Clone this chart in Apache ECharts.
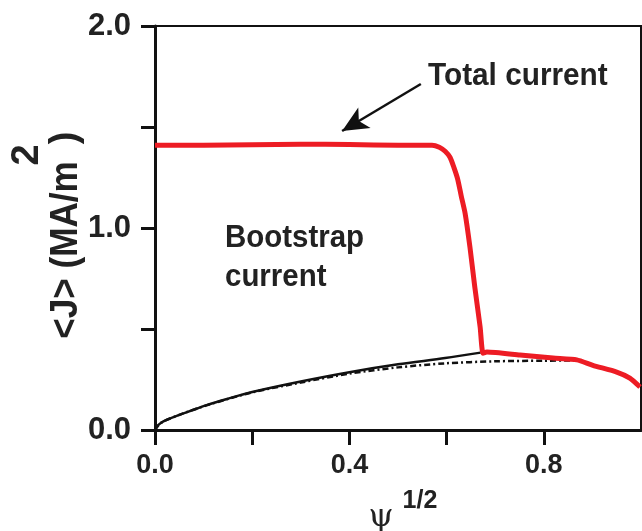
<!DOCTYPE html>
<html>
<head>
<meta charset="utf-8">
<script src="https://cdn.jsdelivr.net/npm/echarts@6/dist/echarts.min.js"></script>
<style>
  html, body { margin: 0; padding: 0; background: #fff; }
  #chart { width: 642px; height: 531px; }
</style>
</head>
<body>
<div id="chart"></div>
<script>
// Current density profiles vs. normalized radius (sqrt of poloidal flux)
const totalX = [0, 0.1, 0.2, 0.3, 0.4, 0.5, 0.57, 0.585, 0.597, 0.607, 0.615, 0.623, 0.63, 0.638, 0.648, 0.658, 0.669, 0.675, 0.683, 0.751, 0.819, 0.868, 0.901, 0.95, 0.977, 0.998];
const totalY = [1.41, 1.41, 1.412, 1.415, 1.413, 1.41, 1.41, 1.40, 1.38, 1.35, 1.30, 1.24, 1.16, 1.074, 0.906, 0.708, 0.51, 0.38, 0.386, 0.371, 0.356, 0.347, 0.32, 0.287, 0.257, 0.213];

const bootX = [0, 0.005, 0.012, 0.024, 0.05, 0.08, 0.106, 0.15, 0.2, 0.3, 0.4, 0.5, 0.597, 0.67];
const bootY = [0, 0.02, 0.035, 0.05, 0.075, 0.1, 0.123, 0.155, 0.188, 0.24, 0.286, 0.325, 0.356, 0.383];

const bootAltX = [0, 0.012, 0.05, 0.106, 0.2, 0.3, 0.4, 0.5, 0.597, 0.7, 0.8, 0.87];
const bootAltY = [0, 0.035, 0.075, 0.122, 0.186, 0.235, 0.279, 0.31, 0.33, 0.34, 0.343, 0.345];

const xTickLabels = ['0.0', '0.4', '0.8'];
const yTickLabels = ['0.0', '1.0', '2.0'];

// annotation arrow, in data units
const arrowFrom = [0.547, 1.713];
const arrowTo = [0.385, 1.48];

const zip = (xs, ys) => xs.map((x, i) => [x, ys[i]]);

const FONT = '"Liberation Sans", Arial, sans-serif';

const chart = echarts.init(document.getElementById('chart'), null, { renderer: 'canvas' });

chart.setOption({
  animation: false,
  backgroundColor: '#ffffff',
  grid: {
    left: 155, right: 1, top: 26, bottom: 101,
    show: true, borderColor: '#111', borderWidth: 2, backgroundColor: 'transparent'
  },
  xAxis: {
    type: 'value', min: 0, max: 1, interval: 0.2,
    axisLine: { show: true, lineStyle: { color: '#111', width: 3 } },
    axisTick: { show: true, inside: false, length: 15, lineStyle: { color: '#111', width: 3 } },
    splitLine: { show: false },
    axisLabel: {
      margin: 22, color: '#222', fontFamily: FONT, fontWeight: 'bold', fontSize: 27,
      showMaxLabel: false,
      formatter: v => {
        const s = v.toFixed(1);
        return xTickLabels.includes(s) ? s : '';
      }
    }
  },
  yAxis: {
    type: 'value', min: 0, max: 2, interval: 0.5,
    axisLine: { show: true, lineStyle: { color: '#111', width: 3 } },
    axisTick: { show: true, inside: false, length: 14, lineStyle: { color: '#111', width: 3 } },
    splitLine: { show: false },
    axisLabel: {
      margin: 24, color: '#222', fontFamily: FONT, fontWeight: 'bold', fontSize: 31,
      formatter: v => {
        const s = v.toFixed(1);
        return yTickLabels.includes(s) ? s : '';
      }
    }
  },
  series: [
    {
      name: 'Bootstrap (alt)', type: 'line', showSymbol: false, smooth: 0.3,
      data: zip(bootAltX, bootAltY),
      lineStyle: { color: '#111', width: 2.5, type: [6, 3, 2, 3] },
      z: 2
    },
    {
      name: 'Bootstrap current', type: 'line', showSymbol: false, smooth: 0.3,
      data: zip(bootX, bootY),
      lineStyle: { color: '#111', width: 2.5 },
      z: 3
    },
    {
      name: 'Total current', type: 'line', showSymbol: false, smooth: 0.2,
      data: zip(totalX, totalY),
      lineStyle: { color: '#ed1c24', width: 5, join: 'round' },
      z: 4,
      markLine: {
        silent: true,
        symbol: ['none', 'arrow'],
        symbolSize: [18, 26],
        label: { show: false },
        lineStyle: { color: '#111', width: 2.5, type: 'solid' },
        data: [[{ coord: arrowFrom }, { coord: arrowTo }]]
      }
    }
  ],
  graphic: [
    {
      type: 'text', left: 428, top: 61,
      style: { text: 'Total current', font: 'bold 31px ' + FONT, fill: '#222' },
      scaleX: 0.96
    },
    {
      type: 'text', left: 225, top: 219,
      style: { text: 'Bootstrap\ncurrent', font: 'bold 31px ' + FONT, fill: '#222', lineHeight: 39 },
      scaleX: 0.95
    },
    // y-axis title, rotated
    {
      type: 'text', x: 66, y: 250, rotation: Math.PI / 2, scaleX: 0.9,
      style: { text: '<J> (MA/m', font: 'bold 39px ' + FONT, fill: '#222', align: 'center', verticalAlign: 'middle' }
    },
    {
      type: 'text', x: 28, y: 155, rotation: Math.PI / 2,
      style: { text: '2', font: 'bold 38px ' + FONT, fill: '#222', align: 'center', verticalAlign: 'middle' }
    },
    {
      type: 'text', x: 66, y: 138, rotation: Math.PI / 2,
      style: { text: ')', font: 'bold 38px ' + FONT, fill: '#222', align: 'center', verticalAlign: 'middle' }
    },
    // x-axis title
    {
      type: 'text', x: 381, y: 518,
      style: { text: 'ψ', font: '32px "DejaVu Serif", "Liberation Serif", serif', fill: '#222', align: 'center', verticalAlign: 'middle' }
    },
    {
      type: 'text', x: 420, y: 501,
      style: { text: '1/2', font: 'bold 25px ' + FONT, fill: '#222', align: 'center', verticalAlign: 'middle' }
    }
  ]
});
</script>
</body>
</html>
